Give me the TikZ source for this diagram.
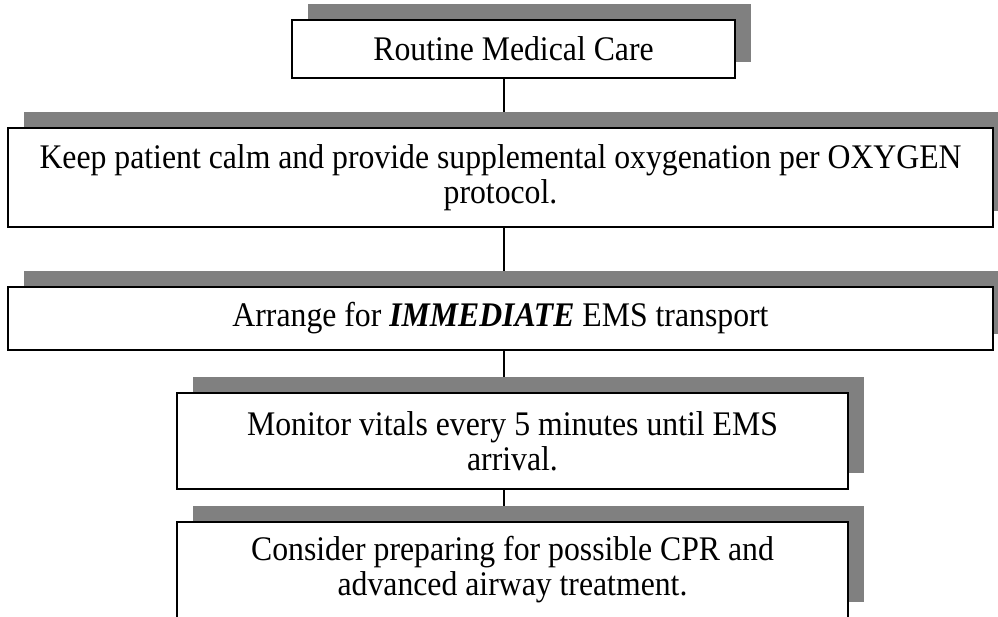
\documentclass[tikz,border=0pt]{standalone}
\usepackage{fontspec}
\setmainfont[FakeStretch=0.92]{Liberation Serif}
\usetikzlibrary{shadows,backgrounds}

\tikzset{
  stepbox/.style={
    draw=black, line width=2.2pt, fill=white,
    inner sep=0pt, align=center,
    font=\fontsize{34.5}{35}\selectfont,
    drop shadow={shadow xshift=16pt, shadow yshift=16pt,
                 fill=gray, opacity=1}
  },
  link/.style={draw=black, line width=1.2pt}
}

\begin{document}
\begin{tikzpicture}[x=1pt, y=-1pt]
  \useasboundingbox (0,0) rectangle (998,616);

  % vertical spine that joins the boxes
  \coordinate (spine) at (504,0);

  \node[stepbox, minimum width=443pt, minimum height=58pt]
    (care) at (513.5,49) {Routine Medical Care};

  \node[stepbox, minimum width=985pt, minimum height=99pt]
    (calm) at (500.5,177.5)
    {Keep patient calm and provide supplemental oxygenation per OXYGEN\\protocol.};

  \node[stepbox, minimum width=985pt, minimum height=63pt]
    (transport) at (500.5,318.5)
    {Arrange for \textbf{\textit{IMMEDIATE}} EMS transport};

  \node[stepbox, minimum width=671pt, minimum height=96pt]
    (vitals) at (512.5,441)
    {Monitor vitals every 5 minutes until EMS\\arrival.};

  \node[stepbox, minimum width=671pt, minimum height=96pt]
    (cpr) at (512.5,570)
    {Consider preparing for possible CPR and\\advanced airway treatment.};

  \begin{scope}[on background layer]
    \draw[link] (care.south -| spine) -- (calm.north -| spine);
    \draw[link] (calm.south -| spine) -- (transport.north -| spine);
    \draw[link] (transport.south -| spine) -- (vitals.north -| spine);
    \draw[link] (vitals.south -| spine) -- (cpr.north -| spine);
  \end{scope}
\end{tikzpicture}
\end{document}
